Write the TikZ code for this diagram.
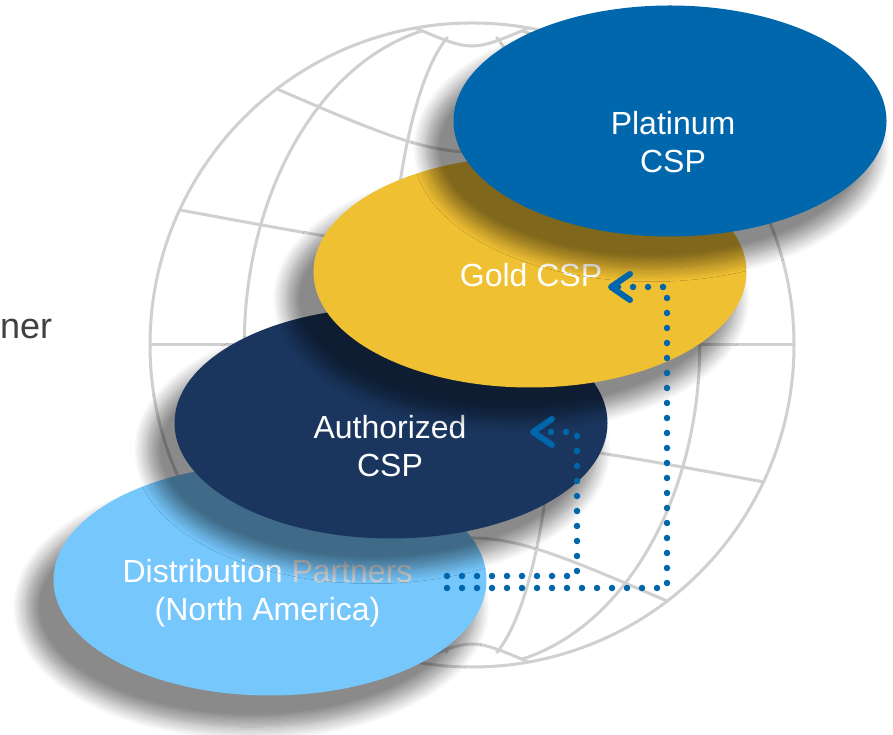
\documentclass[tikz,border=0pt]{standalone}
\usepackage{fontspec}
\setmainfont{Liberation Sans}
\usetikzlibrary{shapes.geometric,shadows.blur,arrows.meta}
\definecolor{platblue}{HTML}{0067AC}
\definecolor{goldcsp}{HTML}{F0C033}
\definecolor{navy}{HTML}{1A365E}
\definecolor{skyblue}{HTML}{76C7FC}
\definecolor{dotblue}{HTML}{0066AB}
\definecolor{globegray}{HTML}{D0D0D0}
\definecolor{textgray}{HTML}{404040}
\definecolor{partgray}{HTML}{D2D2D2}
\begin{document}
\begin{tikzpicture}[x=1pt,y=1pt,
  grid/.style={draw=globegray,line width=3pt},
  disk/.style={ellipse,minimum width=433pt,minimum height=231pt,inner sep=0pt,
    blur shadow={shadow xshift=-18pt,shadow yshift=-26pt,shadow scale=1.04,shadow blur radius=13pt,shadow blur steps=12,shadow opacity=46}},
  lbl/.style={text=white,align=center,inner sep=0pt,font=\fontsize{32}{38}\selectfont},
  dots/.style={draw=dotblue,line width=6.5pt,line cap=round,dash pattern=on 0pt off 15pt},
  tip/.style={-{Straight Barb[length=19pt,width=26pt,line width=6pt,round]}}]
\useasboundingbox(0,0)rectangle(893,735);
\draw[grid](472,390)circle[radius=322];
\draw[grid](150,390)--(794,390);
\draw[grid](277,646)..controls(472,562)..(667,646);
\draw[grid](180,525)..controls(472,471)..(764,525);
\draw[grid](180,253)..controls(472,307)..(764,253);
\draw[grid](277,134)..controls(472,218)..(667,134);
\draw[grid](415.5,707)..controls(472,683)..(528.5,707);
\draw[grid](415.5,73)..controls(472,97)..(528.5,73);
\draw[grid]([shift={(102.5:227.7 and 322)}]472,390)arc(102.5:257.5:227.7 and 322);
\draw[grid]([shift={(107:83.3 and 322)}]472,390)arc(107:253:83.3 and 322);
\draw[grid]([shift={(-73:83.3 and 322)}]472,390)arc(-73:73:83.3 and 322);
\draw[grid]([shift={(-77.5:227.7 and 322)}]472,390)arc(-77.5:77.5:227.7 and 322);
\node[font=\fontsize{36}{42}\selectfont,text=textgray,anchor=base west,inner sep=0pt](ner)at(0,396){ner};
\node[disk,fill=skyblue](dist)at(270,155){};
\node[lbl](distlbl)at(267.5,142){Distribution {\color{partgray}Partners}\\(North America)};
\node[disk,fill=navy](auth)at(391,312){};
\node[lbl](authlbl)at(390,289){Authorized\\CSP};
\node[disk,fill=goldcsp](gold)at(530,463){};
\node[lbl](goldlbl)at(531,460){Gold CSP};
\node[disk,fill=platblue](plat)at(670,614){};
\node[lbl](platlbl)at(673,593){Platinum\\CSP};
\coordinate(d1)at(447,147);
\coordinate(d2)at(447,159);
\coordinate(gturn)at(667,448);
\coordinate(aturn)at(577,303);
\coordinate(g1)at(608,448);
\coordinate(a1)at(530,303);
\draw[dots,tip](d1)-|(gturn)--(g1);
\draw[dots,tip](d2)-|(aturn)--(a1);
\end{tikzpicture}
\end{document}
